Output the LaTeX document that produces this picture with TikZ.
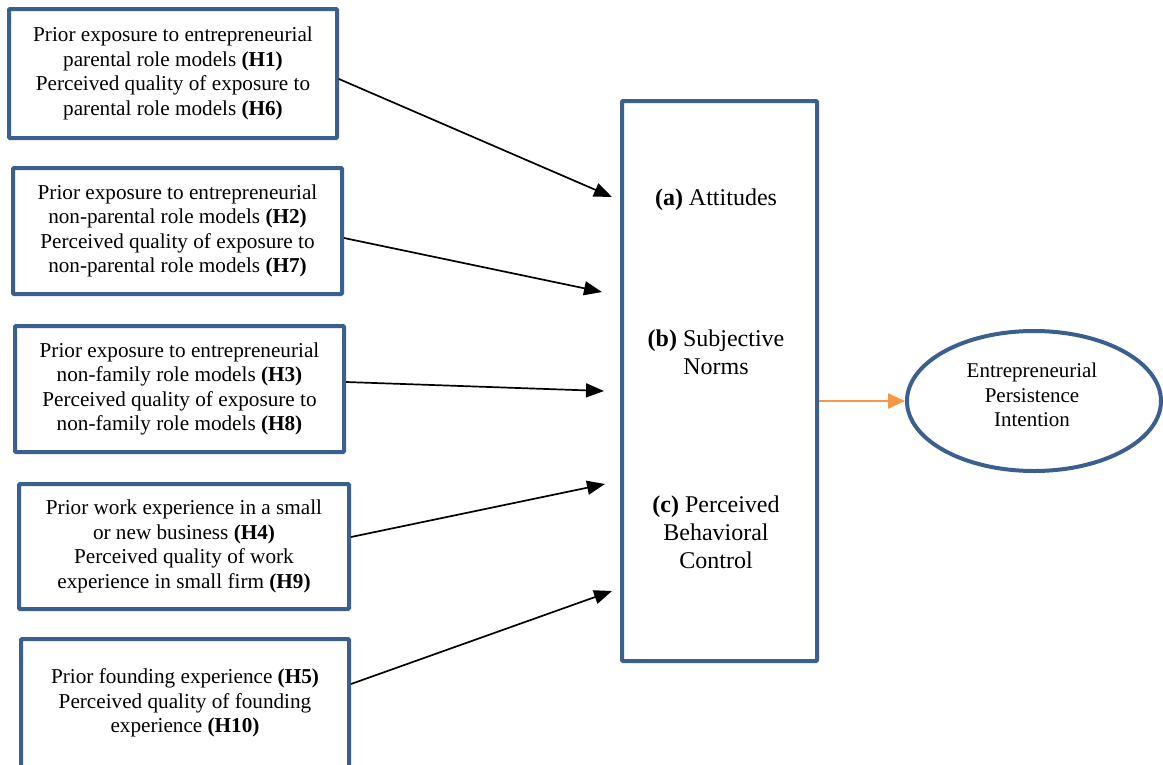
\documentclass[tikz,border=0pt]{standalone}
\usepackage{fontspec}
\setmainfont{Liberation Serif}
\usetikzlibrary{arrows.meta,shapes.geometric}
\definecolor{boxblue}{RGB}{59,95,142}
\definecolor{arroworange}{RGB}{247,150,70}
\tikzset{
  srcbox/.style={draw=boxblue, line width=4pt, fill=white, rounded corners=1pt,
    minimum width=#1, align=center, inner sep=0pt,
    font=\fontsize{21.2}{24.5}\selectfont},
  bigtext/.style={align=center, font=\fontsize{24}{28}\selectfont},
  conn/.style={line width=1.7pt, -{Triangle[length=18pt,width=14pt]}},
}
\begin{document}
\begin{tikzpicture}[x=1pt,y=-1pt]
\useasboundingbox (0,0) rectangle (1163,764);
\clip (0,0) rectangle (1163,764);
\node[srcbox=328pt, minimum height=129pt] (b1) at (173,73.5)
  {Prior exposure to entrepreneurial\\parental role models \textbf{(H1)}\\Perceived quality of exposure to\\parental role models \textbf{(H6)}};
\node[srcbox=329pt, minimum height=126pt] (b2) at (177.5,231)
  {Prior exposure to entrepreneurial\\non-parental role models \textbf{(H2)}\\Perceived quality of exposure to\\non-parental role models \textbf{(H7)}};
\node[srcbox=329pt, minimum height=126pt] (b3) at (179.5,389)
  {Prior exposure to entrepreneurial\\non-family role models \textbf{(H3)}\\Perceived quality of exposure to\\non-family role models \textbf{(H8)}};
\node[srcbox=330pt, minimum height=125pt] (b4) at (184,546.5)
  {Prior work experience in a small\\or new business \textbf{(H4)}\\Perceived quality of work\\experience in small firm \textbf{(H9)}};
\node[srcbox=328pt, minimum height=128pt] (b5) at (185,703)
  {Prior founding experience \textbf{(H5)}\\Perceived quality of founding\\experience \textbf{(H10)}};
\node[draw=boxblue, line width=4pt, rounded corners=1pt, minimum width=195pt, minimum height=560pt, inner sep=0pt] (big) at (719.5,381) {};
\node[bigtext] (ta) at (716,200) {\textbf{(a)} Attitudes};
\node[bigtext] (tb) at (716,352) {\textbf{(b)} Subjective\\Norms};
\node[bigtext] (tc) at (716,532) {\textbf{(c)} Perceived\\Behavioral\\Control};
\node[draw=boxblue, line width=4pt, ellipse, minimum width=254pt, minimum height=140pt, inner sep=0pt] (epi) at (1034,401) {};
\node[align=center, font=\fontsize{21}{24.5}\selectfont] (epitext) at (1032,395)
  {Entrepreneurial\\Persistence\\Intention};
\coordinate (e1) at (612,197);
\coordinate (e2) at (602,292);
\coordinate (e3) at (604,391);
\coordinate (e4) at (605,484);
\coordinate (e5) at (612,591);
\draw[conn] ([yshift=-5.5pt]b1.east) -- (e1);
\draw[conn] ([yshift=-7pt]b2.east) -- (e2);
\draw[conn] ([yshift=7pt]b3.east) -- (e3);
\draw[conn] ([yshift=9.5pt]b4.east) -- (e4);
\draw[conn] ([yshift=19pt]b5.east) -- (e5);
\draw[line width=2.4pt, arroworange, -{Triangle[length=17pt,width=15pt]}] (big.east |- epi.west) -- (epi.west);
\end{tikzpicture}
\end{document}
